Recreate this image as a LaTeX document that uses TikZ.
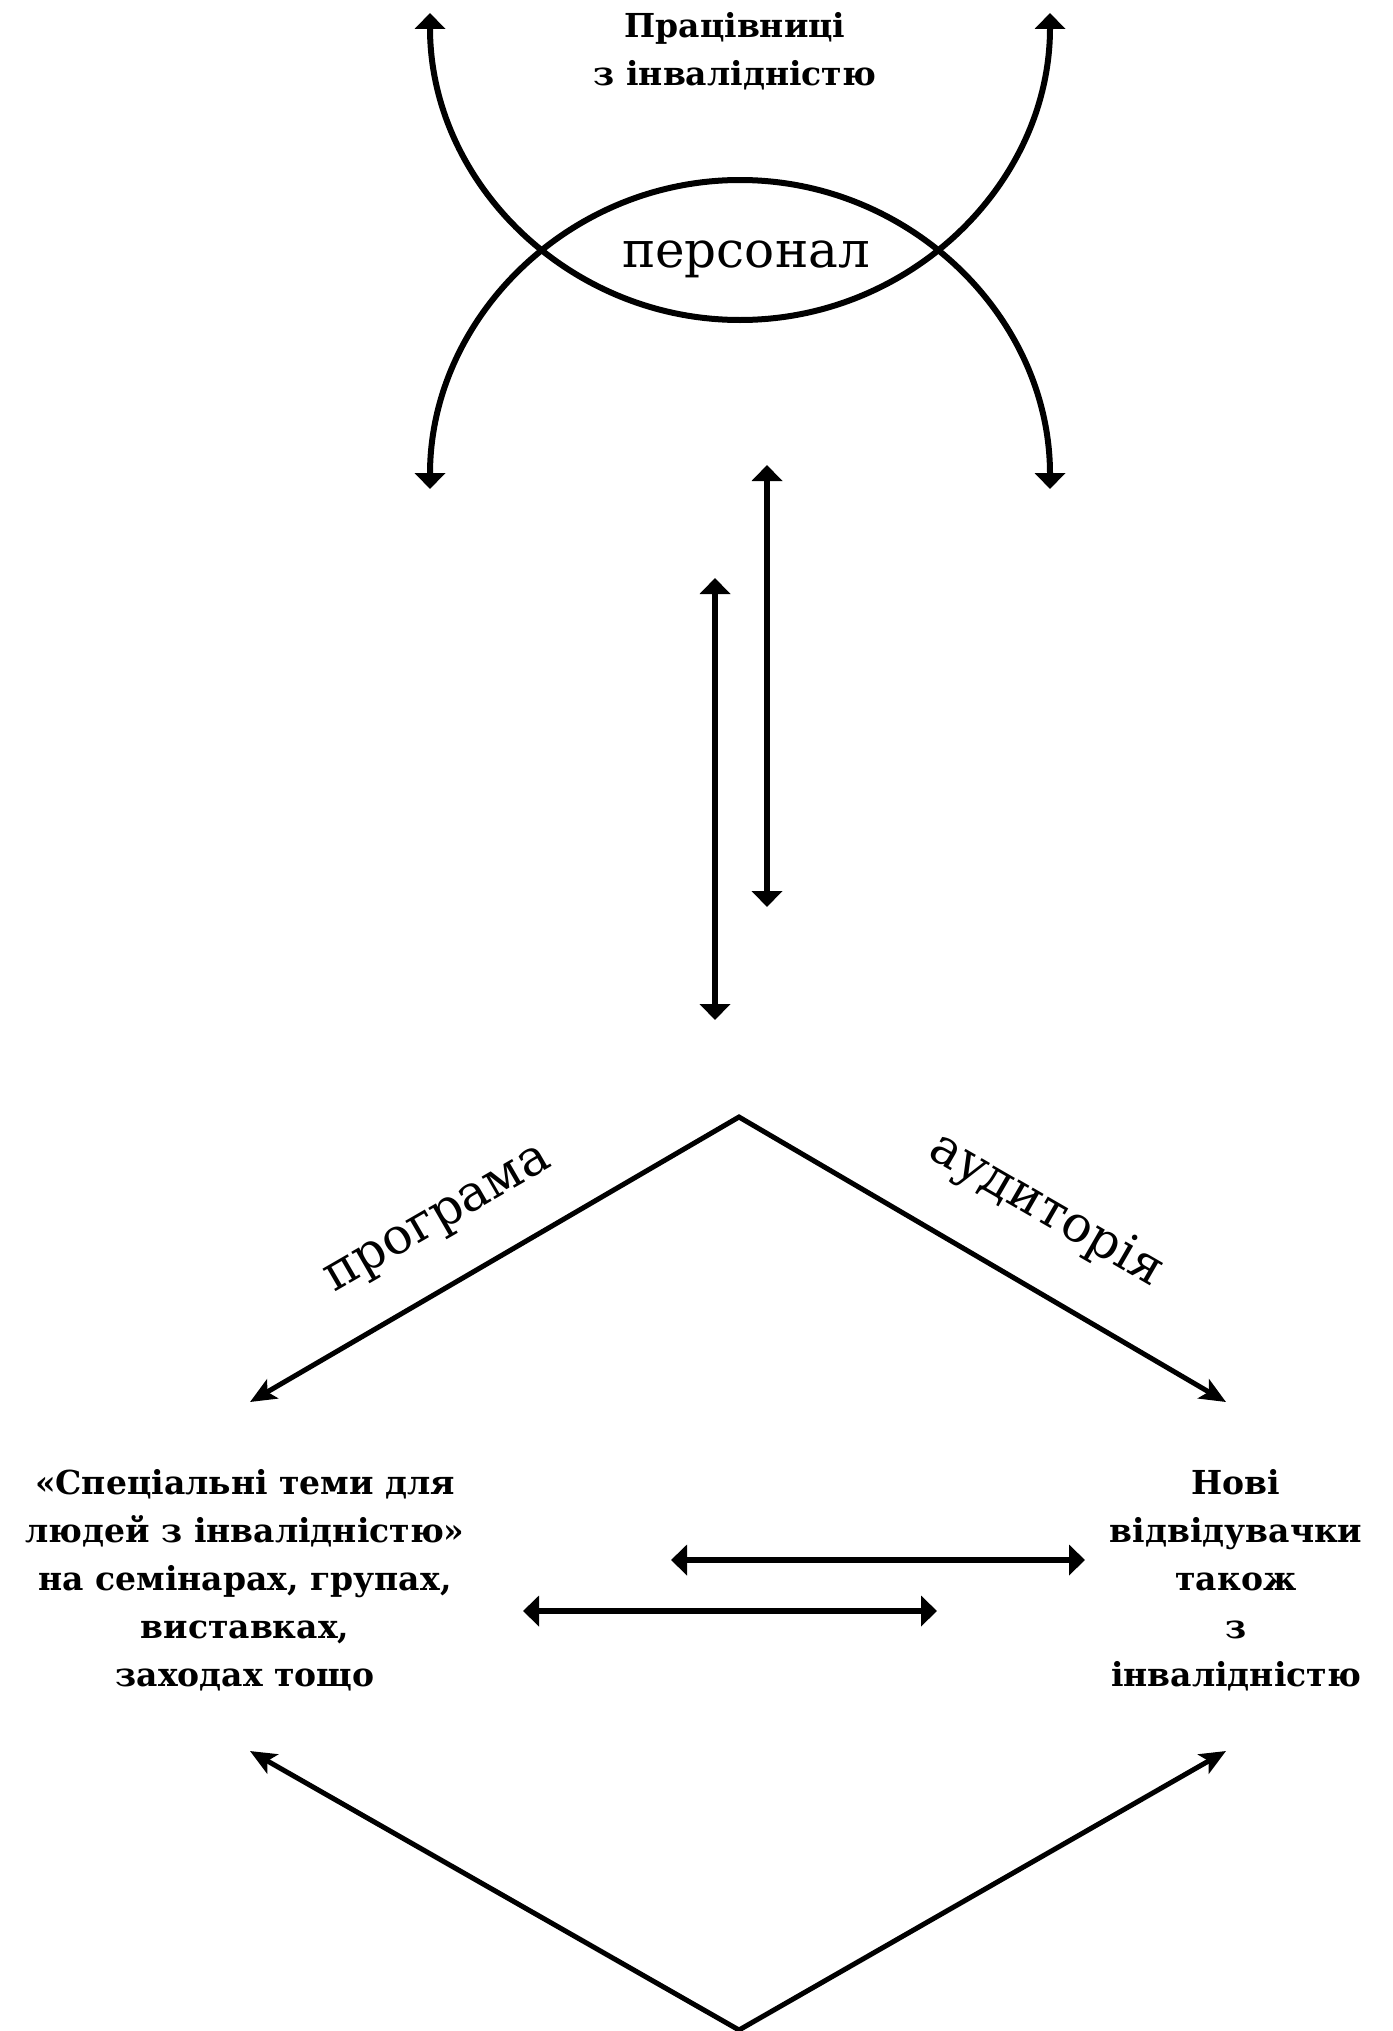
\documentclass[tikz,border=0pt]{standalone}
\usepackage{fontspec}
\setmainfont{DejaVu Serif}
\usetikzlibrary{arrows.meta}
\begin{document}
\begin{tikzpicture}[x=1pt,y=-1pt,
    dbl/.style={{Triangle[width=30pt,length=16pt]}-{Triangle[width=30pt,length=16pt]},line width=6pt},
    diag/.style={{Stealth[width=22pt,length=26pt,inset=6pt]}-{Stealth[width=22pt,length=26pt,inset=6pt]},line width=5pt},
    bold/.style={font=\fontsize{33}{48}\selectfont\bfseries,align=center},
    thin/.style={font=\fontsize{50}{60}\selectfont}]
  \useasboundingbox (0,0) rectangle (1392,2031);
  %NODE
  \node[bold] (W) at (735,51) {Працівниці\\з інвалідністю};
  \node[thin,anchor=base] (P) at (746,267) {персонал};
  \node[thin,rotate=30] (R) at (440,1222) {програма};
  \node[thin,rotate=-30] (A) at (1046,1211) {аудиторія};
  \node[bold] (L) at (245,1580) {«Спеціальні теми для\\людей з інвалідністю»\\на семінарах, групах,\\виставках,\\заходах тощо};
  \node[bold] (N) at (1236,1580) {Нові\\відвідувачки\\також\\з\\інвалідністю};

  %COORD
  \coordinate (u1) at (430,13);
  \coordinate (u2) at (1050,13);
  \coordinate (d1) at (430,489);
  \coordinate (d2) at (1050,489);
  \coordinate (v1) at (715,578);
  \coordinate (v2) at (715,1020);
  \coordinate (v3) at (767,465);
  \coordinate (v4) at (767,907);
  \coordinate (h1) at (671,1560);
  \coordinate (h2) at (1085,1560);
  \coordinate (h3) at (523,1611);
  \coordinate (h4) at (937,1611);
  \coordinate (T) at (739,1117);
  \coordinate (TL) at (250,1402);
  \coordinate (TR) at (1226,1402);
  \coordinate (B) at (739,2030);
  \coordinate (BL) at (250,1751);
  \coordinate (BR) at (1226,1751);

  %EDGE
  \draw[dbl] (u1) arc[start angle=180,end angle=0,x radius=310,y radius=307];
  \draw[dbl] (d1) arc[start angle=180,end angle=360,x radius=310,y radius=309];
  \draw[dbl] (v1) -- (v2);
  \draw[dbl] (v3) -- (v4);
  \draw[dbl] (h1) -- (h2);
  \draw[dbl] (h3) -- (h4);
  \draw[diag] (TL) -- (T) -- (TR);
  \draw[diag] (BL) -- (B) -- (BR);
\end{tikzpicture}
\end{document}
